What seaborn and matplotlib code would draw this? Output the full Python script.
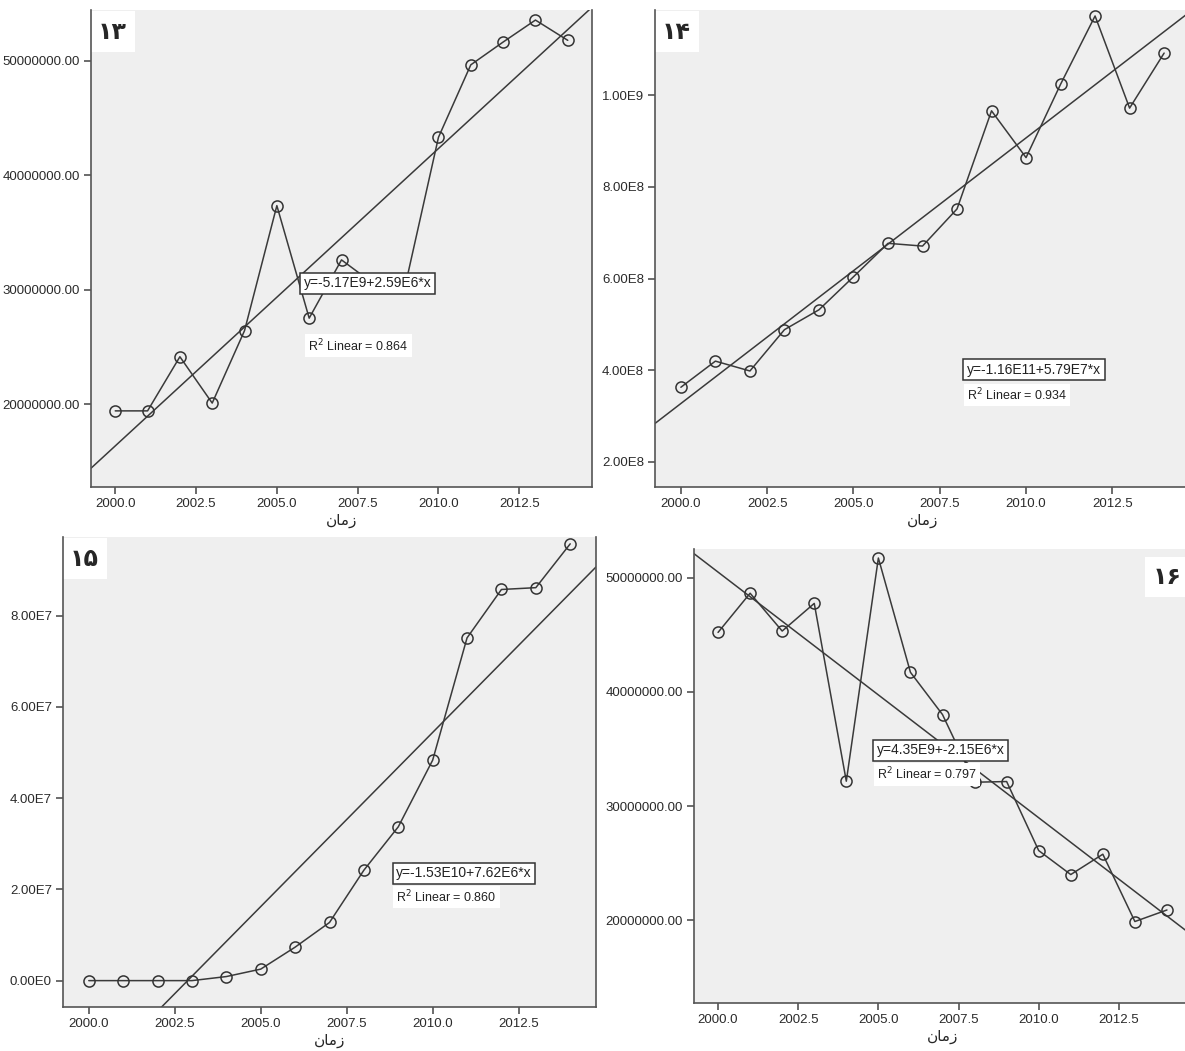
import matplotlib
matplotlib.use("Agg")
import matplotlib.pyplot as plt
import matplotlib.ticker as mticker
import seaborn as sns

# anos e séries
anos = [2000, 2001, 2002, 2003, 2004, 2005, 2006, 2007, 2008, 2009, 2010, 2011, 2012, 2013, 2014]

serie_13 = [19.41e6, 19.41e6, 24.14e6, 20.09e6, 26.42e6, 37.34e6, 27.51e6, 32.60e6,
            30.5e6, 30.7e6, 43.31e6, 49.64e6, 51.63e6, 53.55e6, 51.78e6]
serie_14 = [3.63e8, 4.20e8, 3.985e8, 4.886e8, 5.32e8, 6.04e8, 6.77e8, 6.71e8,
            7.52e8, 9.66e8, 8.64e8, 1.024e9, 1.173e9, 9.72e8, 1.092e9]
serie_15 = [0, 0, 0, 0, 0.89e6, 2.52e6, 7.33e6, 12.74e6,
            24.2e6, 33.7e6, 48.3e6, 75.1e6, 85.7e6, 86.1e6, 95.7e6]
serie_16 = [45.21e6, 48.64e6, 45.33e6, 47.75e6, 32.19e6, 51.72e6, 41.72e6, 38.02e6,
            32.1e6, 32.16e6, 26.12e6, 24.02e6, 25.80e6, 19.91e6, 20.92e6]

rotulos = ["۱۳", "۱۴", "۱۵", "۱۶"]
equacoes = ["y=-5.17E9+2.59E6*x", "y=-1.16E11+5.79E7*x",
            "y=-1.53E10+7.62E6*x", "y=4.35E9+-2.15E6*x"]
r2 = ["0.864", "0.934", "0.860", "0.797"]

xticks = [2000.0, 2002.5, 2005.0, 2007.5, 2010.0, 2012.5]
yticks_13 = [20e6, 30e6, 40e6, 50e6]
yticks_14 = [2e8, 4e8, 6e8, 8e8, 1e9]
yticks_15 = [0, 2e7, 4e7, 6e7, 8e7]
yticks_16 = [20e6, 30e6, 40e6, 50e6]

# "زمان" em formas de apresentação (ordem visual), pois o matplotlib não faz shaping
titulo_x = "\uFEE5\uFE8E\uFEE3\uFEAF"

sns.set_style("white")
plt.rcParams["font.family"] = ["Liberation Sans", "DejaVu Sans"]

W, H = 1185, 1051
fig = plt.figure(figsize=(W / 100, H / 100), dpi=100)


def caixa(x0, x1, y_top, y_bot):
    return [x0 / W, 1 - y_bot / H, (x1 - x0) / W, (y_bot - y_top) / H]


def fmt_decimal(v, pos):
    return f"{v:.2f}"


def fmt_cientifico(v, pos):
    if v == 0:
        return "0.00E0"
    e = len(str(int(abs(v)))) - 1
    return f"{v / 10 ** e:.2f}E{e}"


def painel(pos, y, ylim, yticks, fmt, rotulo, canto, eq, r2txt, eq_pos, r2_pos):
    ax = fig.add_axes(pos)
    ax.set_facecolor("#efefef")
    ax.set_xlim(1999.25, 2014.75)
    ax.set_ylim(*ylim)

    # linha de tendência (ajuste linear) por toda a largura do eixo
    sns.regplot(x=anos, y=y, ax=ax, ci=None, truncate=False, scatter=False,
                line_kws={"color": "#3a3a3a", "lw": 1.1})
    sns.lineplot(x=anos, y=y, ax=ax, color="#3a3a3a", lw=1.1, marker="o",
                 markersize=8, markerfacecolor="none", markeredgecolor="#333333",
                 markeredgewidth=1.1)

    ax.set_xticks(xticks)
    ax.xaxis.set_major_formatter(mticker.FormatStrFormatter("%.1f"))
    ax.set_yticks(yticks)
    ax.yaxis.set_major_formatter(mticker.FuncFormatter(fmt))
    ax.tick_params(axis="both", direction="out", length=5, width=1.1,
                   color="#444444", labelsize=9.5, labelcolor="#2a2a2a", pad=3)
    ax.tick_params(left=True, bottom=True)
    for lado in ["left", "bottom", "right"]:
        ax.spines[lado].set_visible(True)
        ax.spines[lado].set_color("#555555")
        ax.spines[lado].set_linewidth(1.2)
        ax.spines[lado].set_zorder(8)
    ax.spines["top"].set_visible(False)

    ax.set_xlabel(titulo_x, fontsize=11, family=["DejaVu Sans"], labelpad=2)
    ax.set_ylabel("")

    # número do gráfico numa caixa branca
    if canto == "left":
        ax.annotate(rotulo, xy=(0, 1), xycoords="axes fraction", xytext=(15.5, -15.5),
                    textcoords="offset points", ha="center", va="center",
                    fontsize=17, fontweight="bold", family=["DejaVu Sans"],
                    bbox=dict(boxstyle="square,pad=0.35", fc="white", ec="none"), zorder=5)
    else:
        ax.annotate(rotulo, xy=(1, 1), xycoords="axes fraction", xytext=(-17, -20),
                    textcoords="offset points", ha="center", va="center",
                    fontsize=17, fontweight="bold", family=["DejaVu Sans"],
                    bbox=dict(boxstyle="square,pad=0.35", fc="white", ec="none"), zorder=5)

    ax.text(eq_pos[0], eq_pos[1], eq, transform=ax.transAxes, ha="left", va="center",
            fontsize=10, color="#222222",
            bbox=dict(boxstyle="square,pad=0.25", fc="white", ec="#333333", lw=1.1), zorder=6)
    ax.text(r2_pos[0], r2_pos[1], f"R$^2$ Linear = {r2txt}", transform=ax.transAxes,
            ha="left", va="center", fontsize=9, color="#222222",
            bbox=dict(boxstyle="square,pad=0.25", fc="white", ec="none"), zorder=6)
    return ax


painel(caixa(91, 592, 10, 487), serie_13, (12.76e6, 54.43e6), yticks_13, fmt_decimal,
       rotulos[0], "left", equacoes[0], r2[0], (0.424, 0.427), (0.434, 0.296))
painel(caixa(655, 1190, 10, 487), serie_14, (1.454e8, 1.186e9), yticks_14, fmt_cientifico,
       rotulos[1], "left", equacoes[1], r2[1], (0.583, 0.246), (0.583, 0.193))
painel(caixa(63, 596, 537, 1007), serie_15, (-0.578e7, 9.72e7), yticks_15, fmt_cientifico,
       rotulos[2], "left", equacoes[2], r2[2], (0.625, 0.285), (0.625, 0.234))
painel(caixa(694, 1191, 549, 1003), serie_16, (12.78e6, 52.51e6), yticks_16, fmt_decimal,
       rotulos[3], "right", equacoes[3], r2[3], (0.368, 0.557), (0.368, 0.504))

fig.savefig("out.png", dpi=100, facecolor="white")
